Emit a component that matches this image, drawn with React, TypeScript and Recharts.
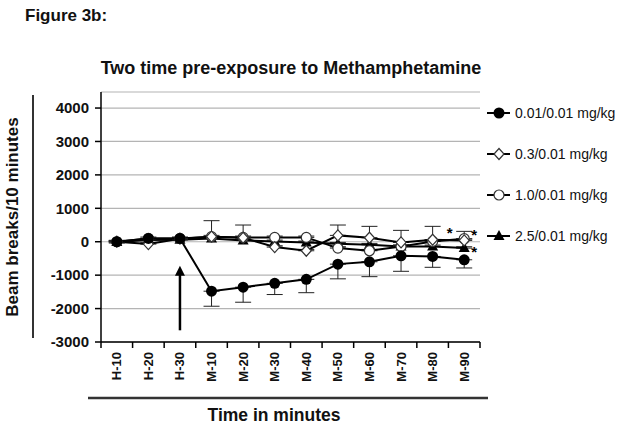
import React from "react";
import {
  LineChart,
  Line,
  XAxis,
  YAxis,
  CartesianGrid,
  ErrorBar,
  ReferenceLine,
  ReferenceDot,
} from "recharts";

const categories = ["H-10", "H-20", "H-30", "M-10", "M-20", "M-30", "M-40", "M-50", "M-60", "M-70", "M-80", "M-90"];

const seriesNames = ["0.01/0.01 mg/kg", "0.3/0.01 mg/kg", "1.0/0.01 mg/kg", "2.5/0.01 mg/kg"];

const dose001 = [0, 100, 100, -1480, -1360, -1245, -1125, -670, -600, -420, -440, -540];
const dose001Err = [40, 40, 40, 450, 450, 335, 400, 440, 445, 465, 325, 245];

const dose03 = [0, -70, 90, 150, 120, -160, -270, 190, 120, -20, 60, 40];
const dose03Err = [40, 40, 40, 40, 380, 40, 40, 310, 340, 360, 400, 40];

const dose10 = [0, 100, 100, 150, 130, 130, 130, -190, -270, -140, 10, 90];
const dose10Err = [40, 40, 40, 480, 40, 40, 40, 40, 40, 40, 40, 220];

const dose25 = [-10, 50, 60, 100, 40, 10, -20, -60, -90, -140, -140, -190];
const dose25Err = [40, 40, 40, 40, 40, 40, 40, 40, 40, 40, 40, 40];

const yTicks = [-3000, -2000, -1000, 0, 1000, 2000, 3000, 4000];

// significance stars: category + value where they sit
const stars = [
  { x: "M-80", y: 390 },
  { x: "M-90", y: 320 },
  { x: "M-90", y: -200 },
];

// arrow marking the injection point
const arrowAt = "H-30";
const arrowFrom = -2650;
const arrowTo = -720;

const data = categories.map((time, i) => ({
  time,
  a: dose001[i],
  aErr: [dose001Err[i], 0],
  b: dose03[i],
  bErr: [0, dose03Err[i]],
  c: dose10[i],
  cErr: [0, dose10Err[i]],
  d: dose25[i],
  dErr: [0, dose25Err[i]],
}));

const FONT = "'Liberation Sans', Arial, sans-serif";
const BAND = 379 / categories.length;

const FilledCircle = ({ cx, cy }: any) => <circle cx={cx} cy={cy} r={5.5} fill="#000" />;
const OpenCircle = ({ cx, cy }: any) => (
  <circle cx={cx} cy={cy} r={5} fill="#fff" stroke="#333" strokeWidth={1.2} />
);
const OpenDiamond = ({ cx, cy }: any) => (
  <polygon
    points={`${cx},${cy - 5.5} ${cx + 5},${cy} ${cx},${cy + 5.5} ${cx - 5},${cy}`}
    fill="#fff"
    stroke="#333"
    strokeWidth={1.2}
  />
);
const Triangle = ({ cx, cy }: any) => (
  <polygon points={`${cx},${cy - 6} ${cx + 5.5},${cy + 4} ${cx - 5.5},${cy + 4}`} fill="#000" />
);

const markers = [FilledCircle, OpenDiamond, OpenCircle, Triangle];

const XTick = ({ x, y, payload, index }: any) => (
  <g>
    <line x1={x - BAND / 2} y1={y - 8} x2={x - BAND / 2} y2={y - 2} stroke="#000" strokeWidth={1.5} />
    {index === categories.length - 1 && (
      <line x1={x + BAND / 2} y1={y - 8} x2={x + BAND / 2} y2={y - 2} stroke="#000" strokeWidth={1.5} />
    )}
    <text
      x={x}
      y={y + 2}
      transform={`rotate(-90, ${x}, ${y + 2})`}
      textAnchor="end"
      dominantBaseline="central"
      fontFamily={FONT}
      fontWeight="bold"
      fontSize={13}
      fill="#111"
    >
      {payload.value}
    </text>
  </g>
);

const Arrow = ({ x1, y1, x2, y2 }: any) => (
  <g>
    <line x1={x1} y1={y1} x2={x2} y2={y2 + 8} stroke="#000" strokeWidth={2.5} />
    <polygon points={`${x2},${y2} ${x2 + 5},${y2 + 10} ${x2 - 5},${y2 + 10}`} fill="#000" />
  </g>
);

const Star = (dx: number) => ({ cx, cy }: any) => (
  <text x={cx + dx} y={cy + 9} textAnchor="middle" fontFamily={FONT} fontWeight="bold" fontSize={15} fill="#000">
    *
  </text>
);

const LegendBox = () => (
  <div style={{ position: "absolute", left: 487, top: 92, fontFamily: FONT, fontSize: 14, color: "#111" }}>
    {seriesNames.map((name, i) => {
      const M = markers[i];
      return (
        <div key={name} style={{ height: 41, display: "flex", alignItems: "center" }}>
          <svg width={28} height={14} style={{ display: "block" }}>
            <line x1={0} y1={7} x2={23} y2={7} stroke="#000" strokeWidth={2} />
            <M cx={12} cy={7} />
          </svg>
          <span>{name}</span>
        </div>
      );
    })}
  </div>
);

export default function App() {
  return (
    <div style={{ position: "absolute", left: 0, top: 0, width: 629, height: 427, background: "#fff" }}>
      <LineChart
        width={629}
        height={427}
        data={data}
        margin={{ top: 92, right: 149, bottom: 45, left: 41 }}
      >
        <CartesianGrid vertical={false} stroke="#b4b4b4" strokeWidth={1.2} />
        <XAxis
          dataKey="time"
          height={40}
          padding={{ left: BAND / 2, right: BAND / 2 }}
          axisLine={{ stroke: "#000", strokeWidth: 1.5 }}
          tickLine={false}
          tick={<XTick />}
          interval={0}
        />
        <XAxis
          xAxisId="top"
          dataKey="time"
          orientation="top"
          height={0}
          padding={{ left: BAND / 2, right: BAND / 2 }}
          tick={false}
          tickLine={false}
          axisLine={{ stroke: "#000", strokeWidth: 1.5 }}
        />
        <YAxis
          domain={[-3000, 4480]}
          ticks={yTicks}
          width={60}
          interval={0}
          tickSize={6}
          tickMargin={6}
          axisLine={{ stroke: "#000", strokeWidth: 1.5 }}
          tickLine={{ stroke: "#000", strokeWidth: 1.5 }}
          tick={{ fontFamily: FONT, fontWeight: "bold", fontSize: 15, fill: "#111" }}
        />
        <YAxis
          yAxisId="right"
          orientation="right"
          domain={[-3000, 4480]}
          width={0}
          tick={false}
          tickLine={false}
          axisLine={{ stroke: "#000", strokeWidth: 1.5 }}
        />

        <Line dataKey="d" stroke="#000" strokeWidth={2} dot={<Triangle />} isAnimationActive={false}>
          <ErrorBar dataKey="dErr" width={8} stroke="#222" strokeWidth={1} direction="y" />
        </Line>
        <Line dataKey="c" stroke="#000" strokeWidth={2} dot={<OpenCircle />} isAnimationActive={false}>
          <ErrorBar dataKey="cErr" width={8} stroke="#222" strokeWidth={1} direction="y" />
        </Line>
        <Line dataKey="b" stroke="#000" strokeWidth={2} dot={<OpenDiamond />} isAnimationActive={false}>
          <ErrorBar dataKey="bErr" width={8} stroke="#222" strokeWidth={1} direction="y" />
        </Line>
        <Line dataKey="a" stroke="#000" strokeWidth={2} dot={<FilledCircle />} isAnimationActive={false}>
          <ErrorBar dataKey="aErr" width={8} stroke="#222" strokeWidth={1} direction="y" />
        </Line>

        <ReferenceLine
          segment={[
            { x: arrowAt, y: arrowFrom },
            { x: arrowAt, y: arrowTo },
          ]}
          shape={<Arrow />}
        />
        {stars.map((s, i) => (
          <ReferenceDot key={i} x={s.x} y={s.y} r={0} shape={Star(i === 0 ? 17 : 10)} />
        ))}
      </LineChart>

      <svg width={629} height={427} style={{ position: "absolute", left: 0, top: 0, pointerEvents: "none" }}>
        <text x={25} y={21} fontFamily={FONT} fontWeight="bold" fontSize={17} fill="#111">
          Figure 3b:
        </text>
        <text x={291} y={74} textAnchor="middle" fontFamily={FONT} fontWeight="bold" fontSize={18} fill="#111">
          Two time pre-exposure to Methamphetamine
        </text>
        <text
          x={12}
          y={217}
          transform="rotate(-90, 12, 217)"
          textAnchor="middle"
          dominantBaseline="central"
          fontFamily={FONT}
          fontWeight="bold"
          fontSize={17}
          fill="#111"
        >
          Beam breaks/10 minutes
        </text>
        <line x1={33} y1={95} x2={33} y2={338} stroke="#333" strokeWidth={2} />
        <line x1={88} y1={398} x2={488} y2={398} stroke="#333" strokeWidth={2.5} />
        <text x={274} y={421} textAnchor="middle" fontFamily={FONT} fontWeight="bold" fontSize={17.5} fill="#111">
          Time in minutes
        </text>
      </svg>
      <LegendBox />
    </div>
  );
}
